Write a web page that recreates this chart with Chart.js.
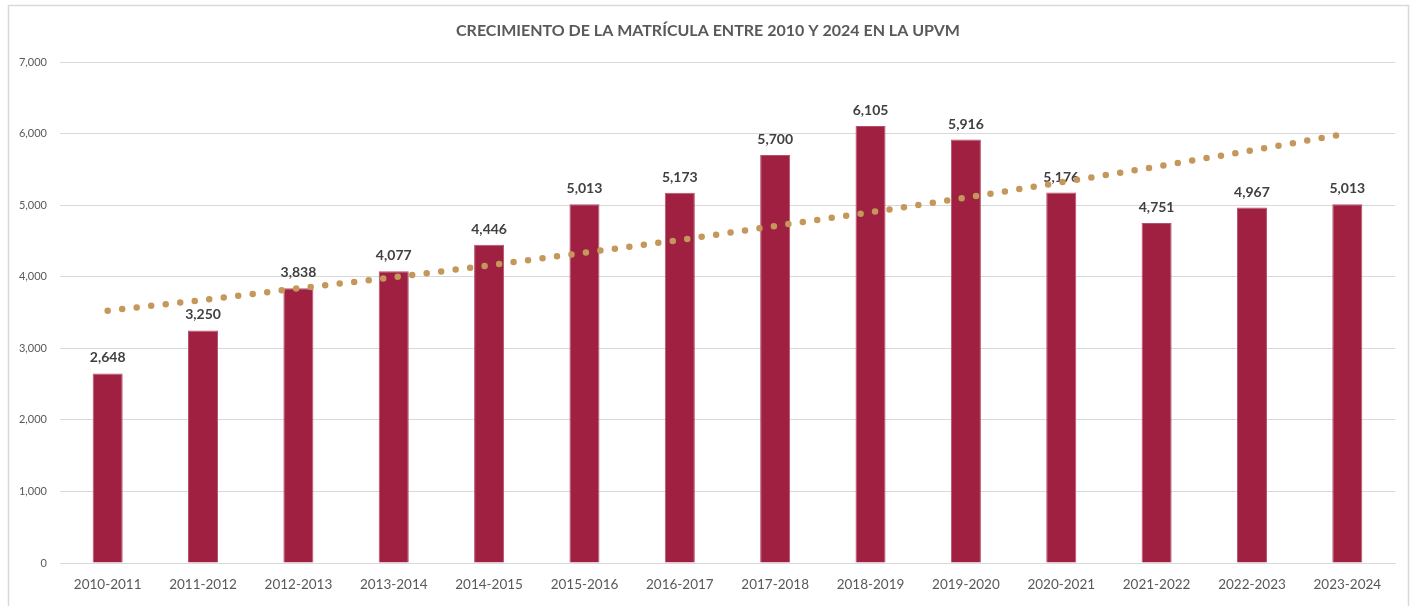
<!DOCTYPE html>
<html>
<head>
<meta charset="utf-8">
<script src="https://cdn.jsdelivr.net/npm/chart.js@4.4.0/dist/chart.umd.min.js"></script>
<style>
  html, body { margin: 0; padding: 0; background: #fff; }
  #wrap { width: 1413px; height: 606px; position: relative; }
</style>
</head>
<body>
<div id="wrap"><canvas id="chart" width="1413" height="606"></canvas></div>
<script>
// Data
const chartTitle = 'CRECIMIENTO DE LA MATRÍCULA ENTRE 2010 Y 2024 EN LA UPVM';
const periods = ['2010-2011', '2011-2012', '2012-2013', '2013-2014', '2014-2015', '2015-2016', '2016-2017',
                 '2017-2018', '2018-2019', '2019-2020', '2020-2021', '2021-2022', '2022-2023', '2023-2024'];
const enrollment = [2648, 3250, 3838, 4077, 4446, 5013, 5173, 5700, 6105, 5916, 5176, 4751, 4967, 5013];
// trend line as read at each category centre
const trend = [3525, 3675, 3838, 3991, 4159, 4336, 4513, 4709, 4900, 5104, 5319, 5537, 5766, 6000];
const yTicks = [0, 1000, 2000, 3000, 4000, 5000, 6000, 7000];

const fmt = v => v.toLocaleString('en-US');

Chart.defaults.font.family = 'Lato, "Open Sans", sans-serif';

// white background, light frame and title
const frame = {
    id: 'frame',
    beforeDraw(chart) {
        const ctx = chart.ctx;
        ctx.save();
        ctx.fillStyle = '#ffffff';
        ctx.fillRect(0, 0, chart.width, chart.height);
        ctx.strokeStyle = '#d9d9d9';
        ctx.lineWidth = 1.5;
        ctx.strokeRect(8.5, 5.5, 1400, 620);
        ctx.fillStyle = '#595959';
        ctx.font = 'bold 16px Lato, sans-serif';
        ctx.textAlign = 'center';
        ctx.textBaseline = 'middle';
        ctx.fillText(chartTitle, 708, 31);
        ctx.restore();
    }
};

// value labels above the bars, drawn before the trend line
const barLabels = {
    id: 'barLabels',
    afterDatasetDraw(chart, args) {
        if (args.index !== 0) return;
        const ctx = chart.ctx;
        ctx.save();
        ctx.fillStyle = '#404040';
        ctx.font = 'bold 14px Lato, sans-serif';
        ctx.textAlign = 'center';
        ctx.textBaseline = 'alphabetic';
        args.meta.data.forEach((bar, i) => {
            ctx.fillText(fmt(enrollment[i]), bar.x, bar.y - 11);
        });
        ctx.restore();
    }
};

new Chart(document.getElementById('chart'), {
    data: {
        labels: periods,
        datasets: [
            {
                type: 'bar',
                label: 'Matrícula',
                data: enrollment,
                backgroundColor: '#9f2041',
                borderColor: '#b8506a',
                borderWidth: { top: 1, left: 1, right: 1, bottom: 0 },
                categoryPercentage: 1,
                barPercentage: 0.315,
                order: 1
            },
            {
                type: 'line',
                label: 'Tendencia',
                data: trend,
                borderColor: '#c4985b',
                borderWidth: 6.5,
                borderDash: [0, 14.6],
                borderCapStyle: 'round',
                pointRadius: 0,
                tension: 0,
                fill: false,
                order: 0
            }
        ]
    },
    options: {
        responsive: false,
        animation: false,
        layout: { padding: { top: 62, left: 8, right: 18, bottom: 8 } },
        plugins: {
            legend: { display: false },
            title: { display: false },
            tooltip: { enabled: false }
        },
        scales: {
            x: {
                grid: { display: false, drawTicks: false },
                border: { color: '#d9d9d9', width: 1 },
                ticks: { color: '#595959', font: { size: 13.5 }, padding: 14, maxRotation: 0 },
                afterFit(scale) { scale.height = 35; }
            },
            y: {
                min: 0,
                max: 7000,
                afterBuildTicks(scale) { scale.ticks = yTicks.map(v => ({ value: v })); },
                grid: { color: '#d9d9d9', drawTicks: false },
                border: { display: false },
                ticks: { color: '#595959', font: { size: 11 }, padding: 13, callback: v => fmt(v) },
                afterFit(scale) { scale.width = 52; }
            }
        }
    },
    plugins: [frame, barLabels]
});
</script>
</body>
</html>
